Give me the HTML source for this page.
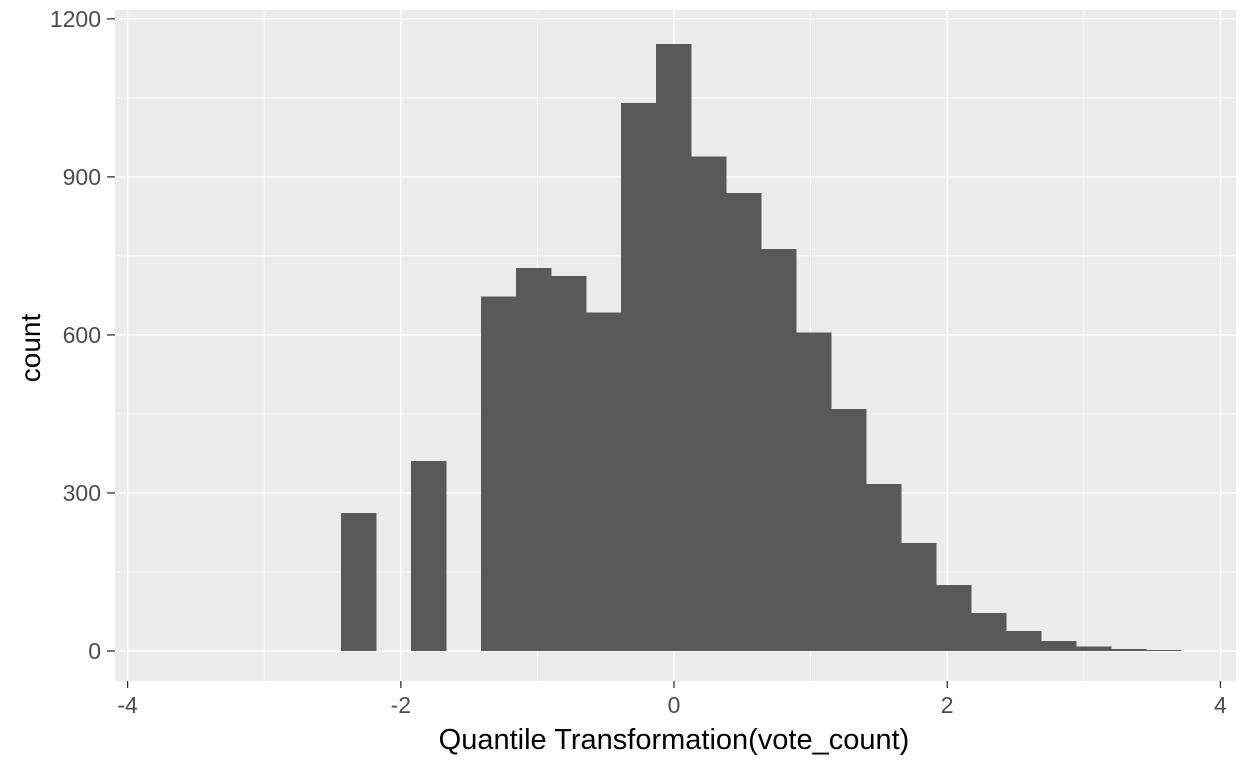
<!DOCTYPE html>
<html><head><meta charset="utf-8"><style>
html,body{margin:0;padding:0;background:#fff;}
svg text{font-family:"Liberation Sans",Arial,sans-serif;}
</style></head><body>
<svg id="chart" width="1248" height="768" xmlns="http://www.w3.org/2000/svg">
<rect width="1248" height="768" fill="#fff"/>
<g id="grid"></g><g id="bars"></g><g id="axes"></g>
<text x="674" y="749" font-size="29" text-anchor="middle" fill="#000">Quantile Transformation(vote_count)</text>
<text transform="translate(40,348) rotate(-90)" font-size="28" text-anchor="middle" fill="#000">count</text>
</svg>
<script>
const binStart = -2.438;
const binWidth = 0.2562;
const counts = [262,0,361,0,673,727,712,643,1040,1152,939,869,763,605,459,317,205,125,72,38,19,9,4,2];
const xTicks = [-4,-2,0,2,4];
const xMinor = [-3,-1,1,3];
const yTicks = [0,300,600,900,1200];
const yMinor = [150,450,750,1050];
const L=115,R=1236,T=10,B=681;
const xs=v=>674+v*136.6;
const ys=v=>651-v*0.5268;
const NS="http://www.w3.org/2000/svg";
function mk(tag,attrs,parent){const e=document.createElementNS(NS,tag);for(const k in attrs)e.setAttribute(k,attrs[k]);parent.appendChild(e);return e;}
const grid=document.getElementById('grid'),bars=document.getElementById('bars'),axes=document.getElementById('axes');
let bg=mk('rect',{x:L,y:T,width:R-L,height:B-T,fill:'#ebebeb'},grid);


xMinor.forEach(v=>{const l=mk('line',{x1:xs(v),x2:xs(v),y1:T,y2:B,stroke:'#fff','stroke-width':0.7},grid);

});
yMinor.forEach(v=>{const l=mk('line',{x1:L,x2:R,y1:ys(v),y2:ys(v),stroke:'#fff','stroke-width':0.7},grid);

});
xTicks.forEach(v=>{const l=mk('line',{x1:xs(v),x2:xs(v),y1:T,y2:B,stroke:'#fff','stroke-width':1.4},grid);


const t=mk('line',{x1:xs(v),x2:xs(v),y1:B,y2:B+7,stroke:'#333','stroke-width':1.3},axes);


const tx=mk('text',{x:xs(v),y:713,'font-size':23,'text-anchor':'middle',fill:'#4d4d4d'},axes);tx.textContent=v;

});
yTicks.forEach(v=>{const l=mk('line',{x1:L,x2:R,y1:ys(v),y2:ys(v),stroke:'#fff','stroke-width':1.4},grid);


const t=mk('line',{x1:L-8,x2:L,y1:ys(v),y2:ys(v),stroke:'#333','stroke-width':1.3},axes);


const tx=mk('text',{x:L-14,y:ys(v)+8,'font-size':23,'text-anchor':'end',fill:'#4d4d4d'},axes);tx.textContent=v;

});
counts.forEach((c,i)=>{if(c<=0)return;const x0=xs(binStart+i*binWidth),x1=xs(binStart+(i+1)*binWidth);
const r=mk('rect',{x:x0,y:ys(c),width:x1-x0+0.6,height:ys(0)-ys(c),fill:'#595959','shape-rendering':'crispEdges'},bars);

});
</script>
</body></html>
